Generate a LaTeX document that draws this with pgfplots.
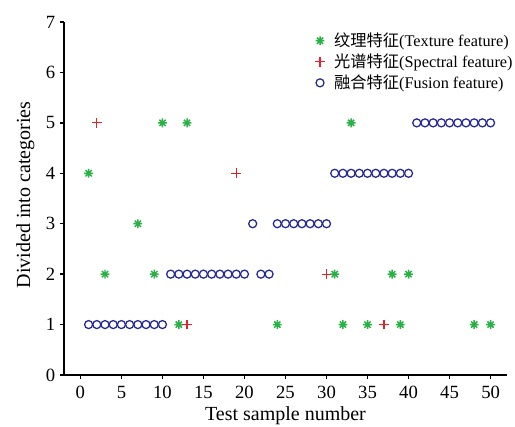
\documentclass[border=0pt]{standalone}
\usepackage{pgfplots}
\pgfplotsset{compat=1.18}
\usepackage{fontspec}
\setmainfont{Liberation Serif}
\newfontfamily\cjk{Noto Sans CJK SC}
\definecolor{tgreen}{RGB}{40,178,70}
\definecolor{sred}{RGB}{235,30,40}
\definecolor{fblue}{RGB}{35,40,150}
\pgfdeclareplotmark{ast8}{%
 \pgfpathmoveto{\pgfqpoint{-\pgfplotmarksize}{0pt}}\pgfpathlineto{\pgfqpoint{\pgfplotmarksize}{0pt}}%
 \pgfpathmoveto{\pgfqpoint{0pt}{-\pgfplotmarksize}}\pgfpathlineto{\pgfqpoint{0pt}{\pgfplotmarksize}}%
 \pgfpathmoveto{\pgfqpoint{-0.707\pgfplotmarksize}{-0.707\pgfplotmarksize}}\pgfpathlineto{\pgfqpoint{0.707\pgfplotmarksize}{0.707\pgfplotmarksize}}%
 \pgfpathmoveto{\pgfqpoint{-0.707\pgfplotmarksize}{0.707\pgfplotmarksize}}\pgfpathlineto{\pgfqpoint{0.707\pgfplotmarksize}{-0.707\pgfplotmarksize}}%
 \pgfusepathqstroke}
\begin{document}
\begin{tikzpicture}
\begin{axis}[at={(0,0)}, anchor=south west, scale only axis,
 width=332.25pt, height=264.75pt,
 xmin=-2, xmax=52, ymin=0, ymax=7,
 axis x line*=bottom, axis y line*=left,
 axis line style={line width=1.1pt, -},
 xtick={0,5,...,50}, ytick={0,1,...,7},
 tick align=outside, major tick length=3pt,
 tick style={line width=1.1pt, black},
 ticklabel style={font=\fontsize{14}{16}\selectfont},
 xticklabel style={yshift=-2pt},
 /pgf/number format/assume math mode=true,
 xlabel={Test sample number}, ylabel={Divided into categories},
 label style={font=\fontsize{15}{17}\selectfont},
 xlabel style={at={(axis description cs:0.5,0)}, anchor=base, yshift=-34pt},
 ylabel style={at={(axis description cs:-0.0875,0.51)}, anchor=center},
 legend style={draw=none, fill=none, at={(axis description cs:0.5575,0.985)}, anchor=north west,
   font=\fontsize{12.2}{14}\selectfont, row sep=0pt, cells={anchor=west}},
 legend cell align=left,
]
\addplot[only marks, mark=ast8, mark size=3.3pt, color=tgreen, line width=1.1pt] coordinates {
(1,4)(3,2)(7,3)(9,2)(10,5)(12,1)(13,5)(24,1)(31,2)(32,1)(33,5)(35,1)(38,2)(39,1)(40,2)(48,1)(50,1)};
\addlegendentry{\hspace{5pt}{\cjk 纹理特征}(Texture feature)}
\addplot[only marks, mark=+, mark size=3.6pt, color=sred, line width=0.85pt] coordinates {
(2,5)(13,1)(19,4)(30,2)(37,1)};
\addlegendentry{\hspace{5pt}{\cjk 光谱特征}(Spectral feature)}
\addplot[only marks, mark=o, mark size=3pt, color=fblue, line width=0.95pt] coordinates {
(1,1)(2,1)(3,1)(4,1)(5,1)(6,1)(7,1)(8,1)(9,1)(10,1)
(11,2)(12,2)(13,2)(14,2)(15,2)(16,2)(17,2)(18,2)(19,2)(20,2)
(21,3)(22,2)(23,2)
(24,3)(25,3)(26,3)(27,3)(28,3)(29,3)(30,3)
(31,4)(32,4)(33,4)(34,4)(35,4)(36,4)(37,4)(38,4)(39,4)(40,4)
(41,5)(42,5)(43,5)(44,5)(45,5)(46,5)(47,5)(48,5)(49,5)(50,5)};
\addlegendentry{\hspace{5pt}{\cjk 融合特征}(Fusion feature)}
\end{axis}
\pgfresetboundingbox
\useasboundingbox (-48pt,-38.25pt) rectangle (338.25pt,281.25pt);
\end{tikzpicture}
\end{document}
